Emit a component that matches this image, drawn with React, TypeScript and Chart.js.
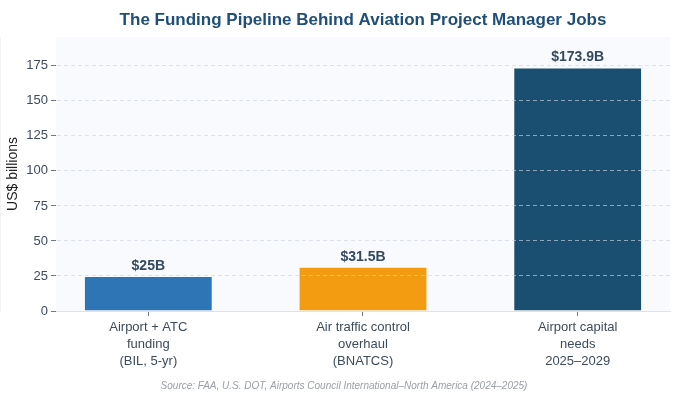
import React, { useEffect, useRef } from "react";
import { Chart, registerables } from "chart.js";

Chart.register(...registerables);

const categories: string[][] = [
  ["Airport + ATC", "funding", "(BIL, 5-yr)"],
  ["Air traffic control", "overhaul", "(BNATCS)"],
  ["Airport capital", "needs", "2025–2029"],
];
const values: number[] = [25, 31.5, 173.9];
const valueLabels: string[] = ["$25B", "$31.5B", "$173.9B"];
const barColors: string[] = ["#2e75b6", "#f39c12", "#1b4f72"];
const yTicks: number[] = [0, 25, 50, 75, 100, 125, 150, 175];
const titleText = "The Funding Pipeline Behind Aviation Project Manager Jobs";
const yAxisTitle = "US$ billions";
const sourceText = "Source: FAA, U.S. DOT, Airports Council International–North America (2024–2025)";

const FONT = "'Liberation Sans', Arial, Helvetica, sans-serif";

const decorPlugin = {
  id: "decor",
  beforeDraw(chart: any) {
    const { ctx, chartArea } = chart;
    ctx.save();
    ctx.fillStyle = "#ffffff";
    ctx.fillRect(0, 0, chart.width, chart.height);
    ctx.fillStyle = "#f8fafd";
    ctx.fillRect(chartArea.left, chartArea.top, chartArea.right - chartArea.left, chartArea.bottom - chartArea.top);
    ctx.restore();
  },
  afterDraw(chart: any) {
    const { ctx, chartArea } = chart;
    ctx.save();
    // title
    ctx.fillStyle = "#1f4e79";
    ctx.font = `bold 17px ${FONT}`;
    ctx.textAlign = "center";
    ctx.textBaseline = "alphabetic";
    ctx.fillText(titleText, (chartArea.left + chartArea.right) / 2, 25);
    // y axis title
    ctx.save();
    ctx.translate(13, (chartArea.top + chartArea.bottom) / 2);
    ctx.rotate(-Math.PI / 2);
    ctx.fillStyle = "#222222";
    ctx.font = `14px ${FONT}`;
    ctx.textAlign = "center";
    ctx.textBaseline = "middle";
    ctx.fillText(yAxisTitle, 0, 0);
    ctx.restore();
    // source
    ctx.fillStyle = "#9aa0a6";
    ctx.font = `italic 10px ${FONT}`;
    ctx.textAlign = "center";
    ctx.textBaseline = "alphabetic";
    ctx.fillText(sourceText, 344, 389);
    // value labels
    const meta = chart.getDatasetMeta(0);
    ctx.fillStyle = "#34495e";
    ctx.font = `bold 14px ${FONT}`;
    ctx.textAlign = "center";
    ctx.textBaseline = "alphabetic";
    meta.data.forEach((bar: any, i: number) => {
      ctx.fillText(valueLabels[i], bar.x, bar.y - 6);
    });
    ctx.restore();
  },
};

export default function App() {
  const canvasRef = useRef<HTMLCanvasElement | null>(null);

  useEffect(() => {
    document.body.style.margin = "0";
    const canvas = canvasRef.current;
    if (!canvas) return;
    const chart = new Chart(canvas, {
      type: "bar",
      data: {
        datasets: [
          {
            data: values.map((v, i) => ({ x: i, y: v })),
            backgroundColor: barColors,
            borderColor: "rgba(255,255,255,0.55)",
            borderWidth: 1,
            barPercentage: 0.6,
            categoryPercentage: 1,
          },
        ],
      },
      options: {
        responsive: false,
        animation: false,
        devicePixelRatio: 1,
        layout: { padding: { top: 37, right: 9, left: 0, bottom: 0 } },
        plugins: {
          legend: { display: false },
          title: { display: false },
          tooltip: { enabled: false },
        },
        scales: {
          x: {
            type: "linear",
            min: -0.43,
            max: 2.43,
            offset: false,
            afterBuildTicks: (scale: any) => {
              scale.ticks = categories.map((_, i) => ({ value: i }));
            },
            afterFit: (scale: any) => {
              scale.height = 89;
            },
            grid: {
              offset: false,
              drawOnChartArea: false,
              drawTicks: true,
              tickLength: 5,
              tickColor: "#6b7785",
            },
            border: { display: true, color: "#dde3ea", width: 1 },
            ticks: {
              autoSkip: false,
              maxRotation: 0,
              padding: 3,
              color: "#3d4b5c",
              font: { family: FONT, size: 13, lineHeight: 1.3 },
              callback: (value: any) => categories[value as number] ?? "",
            },
          },
          y: {
            type: "linear",
            min: 0,
            max: 195.6,
            afterBuildTicks: (scale: any) => {
              scale.ticks = yTicks.map((v) => ({ value: v }));
            },
            afterFit: (scale: any) => {
              scale.width = 56;
            },
            grid: {
              z: 1,
              color: (c: any) => (c.tick && c.tick.value === 0 ? "rgba(0,0,0,0)" : "rgba(205,214,226,0.65)"),
              lineWidth: 1,
              drawTicks: true,
              tickLength: 5,
              tickColor: "#6b7785",
            } as any,
            border: { display: true, color: "#e3e8ee", width: 1, dash: [4, 3] } as any,
            ticks: {
              padding: 3,
              color: "#3d4b5c",
              font: { family: FONT, size: 13 },
            },
          },
        },
      },
      plugins: [decorPlugin],
    } as any);
    return () => chart.destroy();
  }, []);

  return (
    <div style={{ position: "absolute", left: 0, top: 0, width: 679, height: 400 }}>
      <canvas ref={canvasRef} width={679} height={400} style={{ width: 679, height: 400 }} />
    </div>
  );
}
